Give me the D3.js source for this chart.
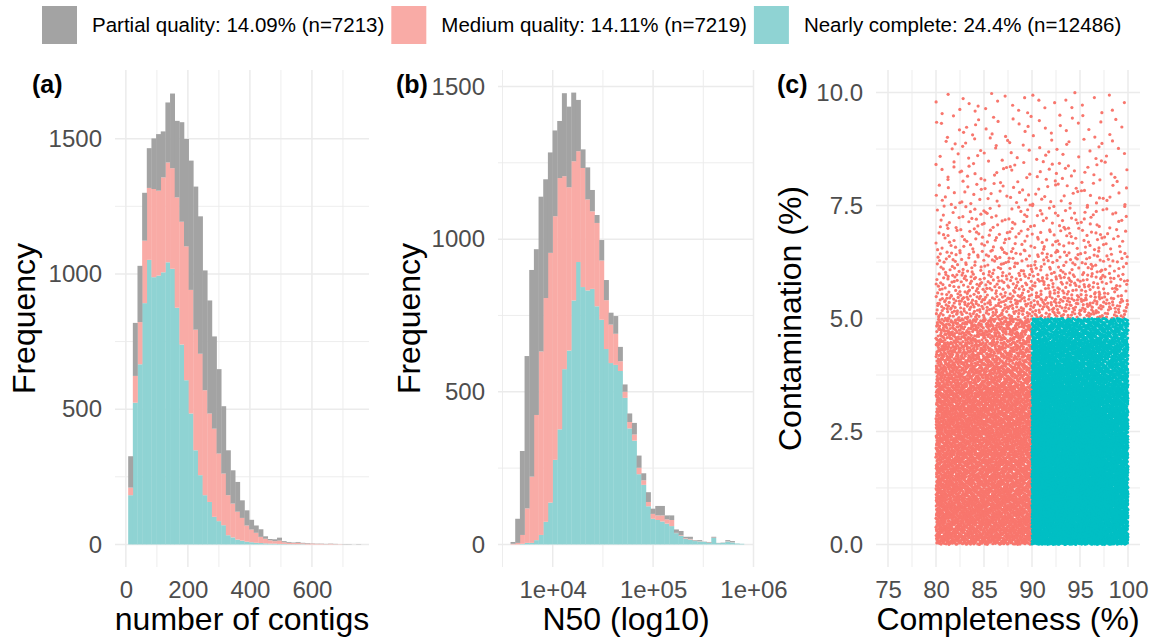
<!DOCTYPE html>
<meta charset="utf-8">
<head>
  <title>Genome quality panels</title>
  <script src="https://cdnjs.cloudflare.com/ajax/libs/d3/7.8.5/d3.min.js"></script>
  <style>
    body { margin: 0; background: #fff; }
    text { font-family: "Liberation Sans", Arial, Helvetica, sans-serif; }
    .grid line { stroke: #ebebeb; }
    .tick text { fill: #4d4d4d; font-size: 24px; }
  </style>
</head>
<body>
<svg id="chart" width="1150" height="640"></svg>
<script>
// ---- data ----
var legendKeys = ["partial", "medium", "nearly"];
var legendLabels = ["Partial quality: 14.09% (n=7213)",
                    "Medium quality: 14.11% (n=7219)",
                    "Nearly complete: 24.4% (n=12486)"];

// (a) number of contigs, 50 bins of width 15 starting at 7.5
var contigBinStart = 7.5, contigBinWidth = 15;
var contigsNearly = [182,524,666,892,1052,988,994,1006,1043,1019,875,739,607,484,348,256,182,157,102,86,
                     71,34,26,18,14,10,8,6,5,4,3,3,2,2,1,1,1,1,0,0,0,0,0,0,0,0,0,0,0,0];
var contigsMedium = [28,99,156,231,266,326,314,351,369,372,408,454,495,457,446,449,388,327,326,250,
                     191,148,125,103,84,60,47,37,23,17,12,9,12,6,5,4,5,3,3,3,2,2,1,2,1,1,0,0,0,0];
var contigsPartial = [116,196,208,177,147,187,209,170,222,276,283,368,397,478,529,508,443,418,341,312,
                      249,166,123,110,65,56,36,27,28,9,5,7,11,4,3,2,3,2,2,1,1,1,1,1,1,0,1,1,0,1];

// (b) N50, 50 bins in log10 space, width 0.0465 starting at 3.58
var n50BinStart = 3.58, n50BinWidth = 0.0465;
var n50Nearly = [0,0,2,5,5,14,31,74,137,277,377,574,635,799,925,843,832,837,780,736,
                 640,594,588,568,480,380,340,230,195,125,84,80,75,68,60,37,28,18,16,11,
                 10,8,5,21,4,5,10,7,3,2];
var n50Medium = [2,5,29,113,217,410,601,733,818,798,823,632,535,456,363,390,298,254,273,194,
                 160,126,102,32,20,21,20,21,15,14,16,15,20,14,20,1,2,2,2,1,
                 1,0,1,1,0,0,1,1,0,0];
var n50Partial = [6,79,275,499,677,543,507,389,329,281,187,272,264,225,168,61,105,70,26,67,
                  66,39,58,47,24,28,38,40,23,32,17,31,31,13,15,11,14,5,7,2,
                  3,1,2,3,1,1,3,3,0,0];
var n50TickValues = [1e4, 1e5, 1e6];
var n50TickLabels = ["1e+04", "1e+05", "1e+06"];

// (c) point counts per cell: columns of 2.5 % completeness, rows of 0.5 % contamination
var complCellLeft = [80, 82.5, 85, 87.5, 90, 92.5, 95, 97.5];
var contamCellLow = [0,0.5,1,1.5,2,2.5,3,3.5,4,4.5,5,5.5,6,6.5,7,7.5,8,8.5,9,9.5];
var mediumDensity = [
  [160,160,160,160,0,0,0,0],
  [160,160,160,160,0,0,0,0],
  [160,160,160,160,0,0,0,0],
  [160,160,160,160,0,0,0,0],
  [160,160,160,160,0,0,0,0],
  [160,160,160,160,0,0,0,0],
  [150,150,150,150,0,0,0,0],
  [120,120,120,120,0,0,0,0],
  [100,100,100,100,0,0,0,0],
  [85,85,85,85,0,0,0,0],
  [45,45,45,45,45,45,45,35],
  [30,30,30,30,30,30,30,22],
  [20,20,20,20,20,20,20,15],
  [14,14,14,14,14,14,14,10],
  [11,11,11,11,11,11,11,8],
  [8,8,8,8,8,8,8,6],
  [7,7,7,7,7,7,7,5],
  [5,6,6,5,5,5,5,4],
  [5,5,5,5,4,4,4,3],
  [4,4,4,4,4,4,3,3]
];
var nearlyDensity = [
  [0,0,0,0,300,300,300,260],
  [0,0,0,0,300,300,300,260],
  [0,0,0,0,300,300,300,260],
  [0,0,0,0,300,300,300,260],
  [0,0,0,0,300,300,300,260],
  [0,0,0,0,290,290,290,250],
  [0,0,0,0,260,260,260,220],
  [0,0,0,0,230,230,230,195],
  [0,0,0,0,200,200,200,165],
  [0,0,0,0,170,170,170,140],
  [0,0,0,0,0,0,0,0],[0,0,0,0,0,0,0,0],[0,0,0,0,0,0,0,0],[0,0,0,0,0,0,0,0],[0,0,0,0,0,0,0,0],
  [0,0,0,0,0,0,0,0],[0,0,0,0,0,0,0,0],[0,0,0,0,0,0,0,0],[0,0,0,0,0,0,0,0],[0,0,0,0,0,0,0,0]
];

// ---- drawing ----
var svg = d3.select("#chart");
var fills = { partial: "#a3a3a3", medium: "#f9aba6", nearly: "#8fd3d3" };
var dots = { medium: "#F8766D", nearly: "#00BFC4" };
var plotTop = 70, plotBottom = 567;

// legend
var lx = 42;
legendKeys.forEach(function(k, i) {
  svg.append("rect").attr("x", lx).attr("y", 6).attr("width", 35).attr("height", 38)
    .attr("fill", fills[k]);
  var t = svg.append("text").attr("x", lx + 50).attr("y", 32)
    .attr("font-size", "20.5px").attr("fill", "#000").text(legendLabels[i]);
  lx = lx + 50 + t.node().getComputedTextLength() + 7;
});

function drawGrid(x, y, xMajor, xMinor, yMajor, yMinor) {
  var g = svg.append("g").attr("class", "grid");
  var x0 = x.range()[0], x1 = x.range()[1];
  g.selectAll(".vmin").data(xMinor).enter().append("line")
    .attr("x1", x).attr("x2", x).attr("y1", plotTop).attr("y2", plotBottom).attr("stroke-width", 0.9);
  g.selectAll(".hmin").data(yMinor).enter().append("line")
    .attr("y1", y).attr("y2", y).attr("x1", x0).attr("x2", x1).attr("stroke-width", 0.9);
  g.selectAll(".vmaj").data(xMajor).enter().append("line")
    .attr("x1", x).attr("x2", x).attr("y1", plotTop).attr("y2", plotBottom).attr("stroke-width", 1.5);
  g.selectAll(".hmaj").data(yMajor).enter().append("line")
    .attr("y1", y).attr("y2", y).attr("x1", x0).attr("x2", x1).attr("stroke-width", 1.5);
}

function drawAxes(x, y, xTicks, xFmt, yTicks, yFmt) {
  svg.append("g").attr("transform", "translate(0," + plotBottom + ")")
    .call(d3.axisBottom(x).tickValues(xTicks).tickFormat(xFmt).tickSize(0).tickPadding(14))
    .call(function(g) { g.select(".domain").remove(); });
  svg.append("g").attr("transform", "translate(" + x.range()[0] + ",0)")
    .call(d3.axisLeft(y).tickValues(yTicks).tickFormat(yFmt).tickSize(0).tickPadding(13))
    .call(function(g) { g.select(".domain").remove(); });
  svg.selectAll(".tick text").attr("font-size", null);
}

function titles(letter, lx, xTitle, yTitle, yTitleX, x) {
  svg.append("text").attr("x", lx).attr("y", 93).attr("font-size", "25px")
    .attr("font-weight", "bold").text(letter);
  svg.append("text").attr("x", (x.range()[0] + x.range()[1]) / 2).attr("y", 630)
    .attr("text-anchor", "middle").attr("font-size", "32px").text(xTitle);
  svg.append("text").attr("transform", "translate(" + yTitleX + "," + (plotTop + plotBottom) / 2 + ") rotate(-90)")
    .attr("text-anchor", "middle").attr("font-size", "32px").text(yTitle);
}

function drawHist(x, y, rows) {
  var series = d3.stack().keys(["nearly", "medium", "partial"])(rows);
  svg.append("g").selectAll("g").data(series).enter().append("g")
    .attr("fill", function(s) { return fills[s.key]; })
    .selectAll("rect").data(function(s) { return s; }).enter().append("rect")
      .attr("x", function(d) { return x(d.data.x0); })
      .attr("width", function(d) { return x(d.data.x1) - x(d.data.x0) + 0.3; })
      .attr("y", function(d) { return y(d[1]); })
      .attr("height", function(d) { return Math.max(0, y(d[0]) - y(d[1])); });
}

// (a)
var xA = d3.scaleLinear().domain([-35, 784]).range([115, 369]);
var yA = d3.scaleLinear().domain([-83.5, 1754]).range([plotBottom, plotTop]);
drawGrid(xA, yA, [0, 200, 400, 600], [100, 300, 500, 700], [0, 500, 1000, 1500], [250, 750, 1250]);
drawHist(xA, yA, contigsNearly.map(function(v, i) {
  return { x0: contigBinStart + i * contigBinWidth, x1: contigBinStart + (i + 1) * contigBinWidth,
           nearly: v, medium: contigsMedium[i], partial: contigsPartial[i] };
}));
drawAxes(xA, yA, [0, 200, 400, 600], d3.format("d"), [0, 500, 1000, 1500], d3.format("d"));
titles("(a)", 32, "number of contigs", "Frequency", 35, xA);

// (b)
var xB = d3.scaleLog().domain([Math.pow(10, 3.455), Math.pow(10, 6.005)]).range([498, 754]);
var yB = d3.scaleLinear().domain([-74, 1554]).range([plotBottom, plotTop]);
drawGrid(xB, yB, n50TickValues, [Math.pow(10, 3.5), Math.pow(10, 4.5), Math.pow(10, 5.5)],
         [0, 500, 1000, 1500], [250, 750, 1250]);
drawHist(xB, yB, n50Nearly.map(function(v, i) {
  return { x0: Math.pow(10, n50BinStart + i * n50BinWidth), x1: Math.pow(10, n50BinStart + (i + 1) * n50BinWidth),
           nearly: v, medium: n50Medium[i], partial: n50Partial[i] };
}));
drawAxes(xB, yB, n50TickValues, function(d, i) { return n50TickLabels[i]; }, [0, 500, 1000, 1500], d3.format("d"));
titles("(b)", 396, "N50 (log10)", "Frequency", 420, xB);

// (c)
var xC = d3.scaleLinear().domain([73.75, 101.25]).range([876, 1140]);
var yC = d3.scaleLinear().domain([-0.5, 10.5]).range([plotBottom, plotTop]);
drawGrid(xC, yC, [75, 80, 85, 90, 95, 100], [77.5, 82.5, 87.5, 92.5, 97.5],
         [0, 2.5, 5, 7.5, 10], [1.25, 3.75, 6.25, 8.75]);

// spread each cell's count evenly inside the cell (Halton order, no randomness)
function halton(i, b) { var f = 1, r = 0; while (i > 0) { f /= b; r += f * (i % b); i = Math.floor(i / b); } return r; }
var seq = 1;
function cellPoints(density, key) {
  var pts = [];
  density.forEach(function(row, r) {
    row.forEach(function(n, c) {
      for (var k = 0; k < n; k++, seq++) {
        pts.push({ cx: complCellLeft[c] + 2.5 * halton(seq, 2),
                   cy: contamCellLow[r] + 0.5 * halton(seq, 3), key: key });
      }
    });
  });
  return pts;
}
var points = cellPoints(mediumDensity, "medium").concat(cellPoints(nearlyDensity, "nearly"));
svg.append("g").selectAll("circle").data(points).enter().append("circle")
  .attr("cx", function(d) { return xC(d.cx); })
  .attr("cy", function(d) { return yC(d.cy); })
  .attr("r", 1.6)
  .attr("fill", function(d) { return dots[d.key]; });
drawAxes(xC, yC, [75, 80, 85, 90, 95, 100], d3.format("d"), [0, 2.5, 5, 7.5, 10], d3.format(".1f"));
titles("(c)", 777, "Completeness (%)", "Contamination (%)", 801, xC);
</script>
</body>
